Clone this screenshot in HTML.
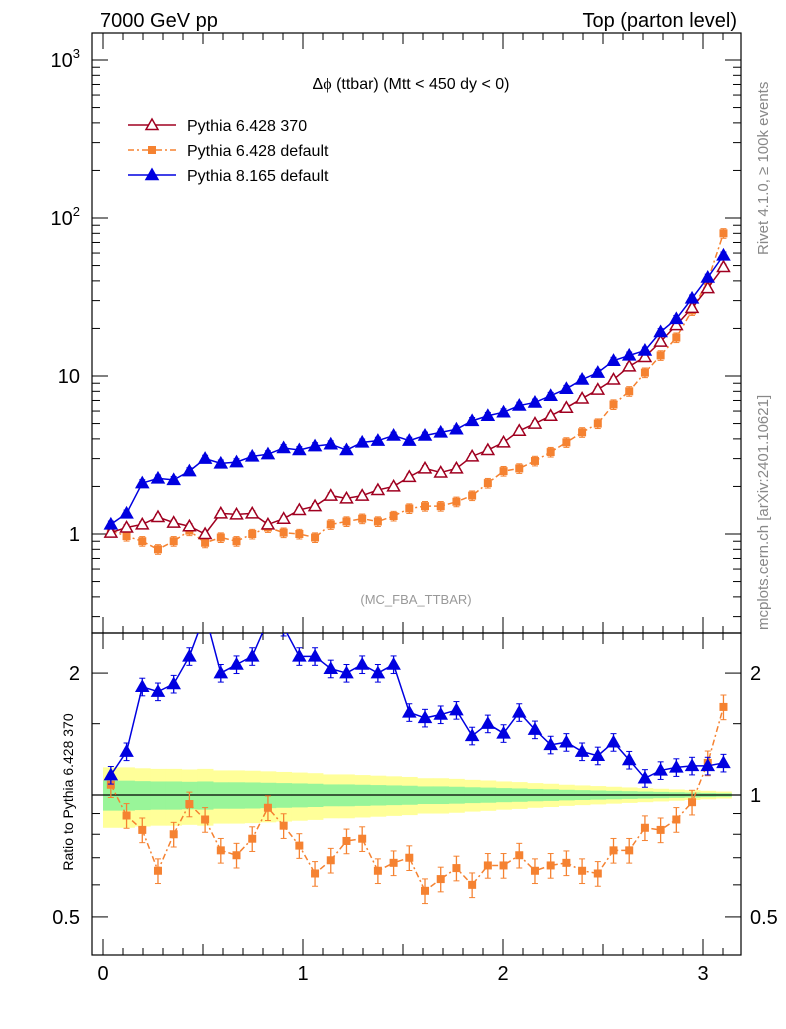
<!DOCTYPE html>
<html><head><meta charset="utf-8"><style>
body{margin:0;background:#fff;font-family:"Liberation Sans",sans-serif;}
svg text{font-family:"Liberation Sans",sans-serif;}
</style></head><body>
<svg id="c" width="786" height="1024" viewBox="0 0 786 1024" xmlns="http://www.w3.org/2000/svg">
<text x="100" y="27" font-size="20">7000 GeV pp</text>
<text x="737" y="27" font-size="20" text-anchor="end">Top (parton level)</text>
<text transform="translate(768,255) rotate(-90)" font-size="15" fill="#888">Rivet 4.1.0, ≥ 100k events</text>
<text transform="translate(768,630) rotate(-90)" font-size="15" fill="#888">mcplots.cern.ch [arXiv:2401.10621]</text>
<text x="411" y="89" font-size="16" text-anchor="middle">Δ<tspan font-family="Liberation Serif">ϕ</tspan> (ttbar) (Mtt &lt; 450 dy &lt; 0)</text>
<text x="416" y="604" font-size="13" fill="#999" text-anchor="middle">(MC_FBA_TTBAR)</text>
<text transform="translate(73,792) rotate(-90)" font-size="14" text-anchor="middle">Ratio to Pythia 6.428 370</text>
<g id="g"></g>
</svg>
<script>
const nBins=40;
const red=[1.02,1.1,1.15,1.28,1.18,1.12,1.0,1.35,1.33,1.35,1.15,1.25,1.42,1.5,1.75,1.68,1.75,1.9,2.0,2.3,2.6,2.45,2.6,3.1,3.4,3.8,4.5,5.0,5.6,6.3,7.2,8.2,9.5,11.5,13.2,16.5,21,27,36,49];
const blue=[1.15,1.35,2.1,2.25,2.2,2.5,3.0,2.8,2.85,3.1,3.2,3.5,3.4,3.6,3.7,3.4,3.8,3.9,4.2,3.9,4.2,4.4,4.6,5.2,5.6,5.9,6.5,6.8,7.5,8.3,9.5,10.5,12.5,13.5,14.5,19,23,31,42,58];
const orange=[1.05,0.97,0.9,0.8,0.9,1.05,0.88,0.95,0.9,1.0,1.1,1.02,1.0,0.95,1.15,1.2,1.25,1.2,1.3,1.45,1.5,1.5,1.6,1.75,2.1,2.5,2.6,2.9,3.3,3.8,4.4,5.0,6.6,8.0,10.5,13.5,17.5,26,40,80];
const ratioBlue=[1.12,1.28,1.85,1.8,1.88,2.2,2.8,2.0,2.1,2.2,2.7,2.6,2.2,2.2,2.05,2.0,2.1,2.0,2.1,1.6,1.55,1.58,1.62,1.4,1.5,1.42,1.6,1.45,1.33,1.35,1.28,1.25,1.35,1.22,1.1,1.15,1.17,1.18,1.18,1.2];
const ratioOrange=[1.06,0.89,0.82,0.65,0.8,0.95,0.87,0.73,0.71,0.78,0.93,0.84,0.75,0.64,0.69,0.77,0.78,0.65,0.68,0.7,0.58,0.62,0.66,0.6,0.67,0.67,0.71,0.65,0.67,0.68,0.65,0.64,0.73,0.73,0.83,0.82,0.87,0.96,1.2,1.65];
const refErr=[0.085,0.085,0.082,0.08,0.08,0.078,0.08,0.075,0.075,0.074,0.072,0.07,0.068,0.066,0.062,0.062,0.06,0.058,0.056,0.054,0.05,0.05,0.048,0.045,0.043,0.04,0.038,0.035,0.033,0.03,0.028,0.026,0.024,0.022,0.02,0.018,0.016,0.014,0.012,0.01];
const xTicks=[0,1,2,3];
const ratioTicksLeft=[2,0.5];
const ratioTicksRight=[2,1,0.5];

const NS="http://www.w3.org/2000/svg";
const g=document.getElementById('g');
function el(t,a,p){const e=document.createElementNS(NS,t);for(const k in a)e.setAttribute(k,a[k]);(p||g).appendChild(e);return e;}
const L=92,R=741,T1=33,B1=633,T2=633,B2=955;
const X=v=>103+200*v;
const Y1=v=>534-158*Math.log10(v);
const Y2=v=>795-405*Math.log10(v);
const bw=Math.PI/nBins;
const cx=i=>X((i+0.5)*bw);

for(let i=0;i<nBins;i++){
  const x0=X(i*bw),x1=X((i+1)*bw),e=refErr[i];
  const y=el('rect',{x:x0,y:Y2(1+2*e),width:x1-x0+0.5,height:Y2(1-2*e)-Y2(1+2*e),fill:'#ffff99'});
  
  
}
for(let i=0;i<nBins;i++){
  const x0=X(i*bw),x1=X((i+1)*bw),e=refErr[i];
  const r=el('rect',{x:x0,y:Y2(1+e),width:x1-x0+0.5,height:Y2(1-e)-Y2(1+e),fill:'#99f599'});
  
  
}
el('line',{x1:L,x2:R,y1:Y2(1),y2:Y2(1),stroke:'#000','stroke-width':1.2});

const f1=el('rect',{x:L,y:T1,width:R-L,height:B1-T1,fill:'none',stroke:'#000','stroke-width':1.2});


const f2=el('rect',{x:L,y:T2,width:R-L,height:B2-T2,fill:'none',stroke:'#000','stroke-width':1.2});



for(let d=-1;d<=3;d++){for(let m=1;m<10;m++){const v=m*Math.pow(10,d);const y=Y1(v);if(y<T1||y>B1)continue;
  const len=m==1?16:8;
  el('line',{x1:L,x2:L+len,y1:y,y2:y,stroke:'#000'});el('line',{x1:R,x2:R-len,y1:y,y2:y,stroke:'#000'});}}
[[1,'1'],[10,'10']].forEach(([v,t])=>{const e=el('text',{x:80,y:Y1(v)+7,'font-size':20,'text-anchor':'end'});e.textContent=t;});
[[100,'2'],[1000,'3']].forEach(([v,p])=>{const e=el('text',{x:80,y:Y1(v)+7,'font-size':20,'text-anchor':'end'});e.innerHTML='10<tspan dy="-9" font-size="13">'+p+'</tspan>';});

[0.5,0.6,0.7,0.8,0.9,1,1.5,2].forEach(v=>{const y=Y2(v);const len=(v==0.5||v==1||v==2)?16:8;
  el('line',{x1:L,x2:L+len,y1:y,y2:y,stroke:'#000'});el('line',{x1:R,x2:R-len,y1:y,y2:y,stroke:'#000'});});
ratioTicksLeft.forEach(v=>{
  const a=el('text',{x:80,y:Y2(v)+7,'font-size':20,'text-anchor':'end'});a.textContent=String(v);
  });
ratioTicksRight.forEach(v=>{
  const b=el('text',{x:750,y:Y2(v)+7,'font-size':20});b.textContent=String(v);
  });

for(let k=0;k<=31;k++){const v=k/10;const x=X(v);if(x>R)break;const len=k%10==0?16:(k%5==0?11:7);
  el('line',{x1:x,x2:x,y1:B2,y2:B2-len,stroke:'#000'});el('line',{x1:x,x2:x,y1:T2,y2:T2+len,stroke:'#000'});
  el('line',{x1:x,x2:x,y1:B1,y2:B1-len,stroke:'#000'});el('line',{x1:x,x2:x,y1:T1,y2:T1+len,stroke:'#000'});}
xTicks.forEach(v=>{const e=el('text',{x:X(v),y:980,'font-size':20,'text-anchor':'middle'});e.textContent=String(v);
  });

function marker(type,x,y,col,grp){
  if(type=='tri'||type=='otri'){const s=6;el('polygon',{points:`${x},${y-s} ${x-s},${y+s*0.75} ${x+s},${y+s*0.75}`,fill:type=='tri'?col:'#fff',stroke:col,'stroke-width':1.5},grp);}
  else el('rect',{x:x-4,y:y-4,width:8,height:8,fill:col},grp);
}
function series(vals,Yf,col,type,dash,name,clip,errF){
  const grp=el('g',{});
  
  
  const pts=vals.map((v,i)=>[cx(i),Yf(v)]);
  if(clip){const cp=el('clipPath',{id:'cp'+name});el('rect',{x:L,y:T2,width:R-L,height:B2-T2},cp);grp.setAttribute('clip-path','url(#cp'+name+')');}
  el('polyline',{points:pts.map(p=>p.join(',')).join(' '),fill:'none',stroke:col,'stroke-width':1.5,'stroke-dasharray':dash||''},grp);
  vals.forEach((v,i)=>{const x=pts[i][0];const e=errF;
    el('line',{x1:x,x2:x,y1:Yf(v*(1+e)),y2:Yf(v*(1-e)),stroke:col,'stroke-width':1.3},grp);
    el('line',{x1:x-3,x2:x+3,y1:Yf(v*(1+e)),y2:Yf(v*(1+e)),stroke:col},grp);
    el('line',{x1:x-3,x2:x+3,y1:Yf(v*(1-e)),y2:Yf(v*(1-e)),stroke:col},grp);
    marker(type,x,pts[i][1],col,grp);});
}
series(orange,Y1,'#f58231','sq','6,3,2,3','series-pythia6-default',false,0.07);
series(red,Y1,'#a00020','otri','','series-pythia6-370',false,0.04);
series(blue,Y1,'#0000e0','tri','','series-pythia8-default',false,0.05);
series(ratioOrange,Y2,'#f58231','sq','6,3,2,3','ratio-pythia6-default',true,0.07);
series(ratioBlue,Y2,'#0000e0','tri','','ratio-pythia8-default',true,0.05);

const leg=[['Pythia 6.428 370','#a00020','otri',''],['Pythia 6.428 default','#f58231','sq','6,3,2,3'],['Pythia 8.165 default','#0000e0','tri','']];
leg.forEach((l,i)=>{const y=125+25*i;const lg=el('g',{});
  
  
  el('line',{x1:128,x2:176,y1:y,y2:y,stroke:l[1],'stroke-width':1.5,'stroke-dasharray':l[3]},lg);
  marker(l[2],152,y,l[1],lg);
  const t=el('text',{x:187,y:y+6,'font-size':16},lg);t.textContent=l[0];});
</script>
</body></html>
